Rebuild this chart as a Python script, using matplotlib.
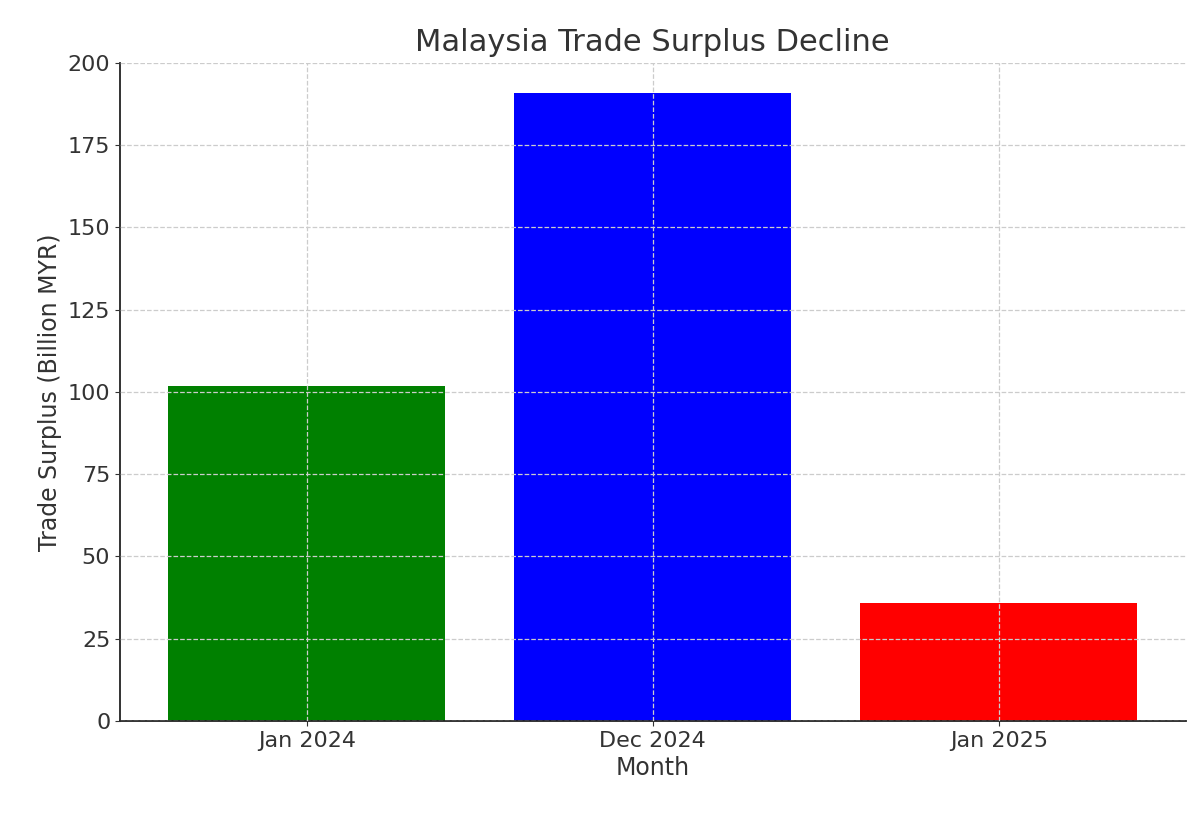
import matplotlib
matplotlib.use("Agg")
import matplotlib.pyplot as plt

# data
months = ["Jan 2024", "Dec 2024", "Jan 2025"]
surplus = [101.7, 190.9, 35.8]
bar_colors = ["green", "blue", "red"]

plt.rcParams["font.family"] = ["DejaVu Sans"]
plt.rcParams["text.color"] = "#333333"
plt.rcParams["axes.labelcolor"] = "#333333"
plt.rcParams["xtick.color"] = "#333333"
plt.rcParams["ytick.color"] = "#333333"

fig = plt.figure(figsize=(12, 8.13), dpi=100)
ax = fig.add_axes([0.1, 0.113, 0.888, 0.81])

ax.bar(months, surplus, color=bar_colors, width=0.8, zorder=2)

ax.set_title("Malaysia Trade Surplus Decline", fontsize=22, pad=8)
ax.set_xlabel("Month", fontsize=17)
ax.set_ylabel("Trade Surplus (Billion MYR)", fontsize=17)
ax.set_ylim(0, 200)
ax.set_yticks(range(0, 201, 25))
ax.tick_params(labelsize=16)
ax.grid(True, linestyle="--", color="#cccccc", linewidth=0.9, zorder=0)
ax.set_axisbelow(False)
for s in ["top", "right"]:
    ax.spines[s].set_visible(False)
for s in ["left", "bottom"]:
    ax.spines[s].set_linewidth(1.3)
    ax.spines[s].set_color("#222222")

plt.savefig("out.png", dpi=100)
plt.close()
